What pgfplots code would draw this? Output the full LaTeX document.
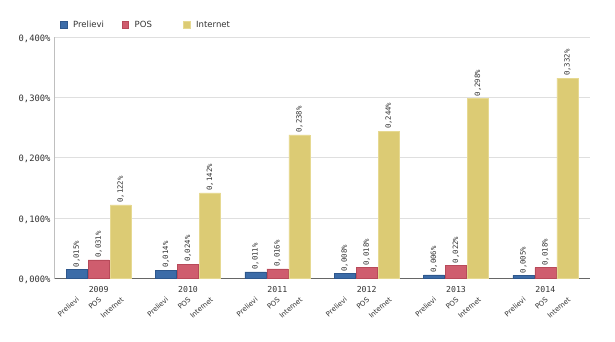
\documentclass[border=0pt]{standalone}
\usepackage{pgfplots}
\pgfplotsset{compat=1.18}
\usepackage{fontspec}
\setmainfont{DejaVu Sans}
\setmonofont{DejaVu Sans Mono}
\definecolor{cblue}{HTML}{3C6CA8}
\definecolor{cblueb}{HTML}{2E578C}
\definecolor{cred}{HTML}{CF5D6E}
\definecolor{credb}{HTML}{B84A5A}
\definecolor{cyel}{HTML}{DCCB74}
\definecolor{cyelb}{HTML}{E6D992}
\definecolor{txt}{HTML}{333333}
\newcommand\yl[1]{\rule{0pt}{10.5pt}{\ttfamily\fontsize{8.2}{9}\selectfont #1}}
\newcommand\subl[1]{{\rmfamily\fontsize{7}{8}\selectfont #1}}
\begin{document}
\begin{tikzpicture}
\useasboundingbox (-54pt,-62.5pt) rectangle (561pt,278.5pt);
\begin{axis}[
  at={(0pt,0pt)}, anchor=south west,
  scale only axis,
  width=536pt, height=241.5pt,
  xmin=-0.5, xmax=5.5, ymin=0, ymax=0.4,
  ybar=1pt, bar width=21pt,
  axis x line*=bottom, axis y line*=left,
  axis line style={draw=gray!50, -},
  x axis line style={draw=gray!80!black},
  ymajorgrids, grid style={draw=gray!25, line width=0.6pt},
  major tick length=0pt,
  /pgf/number format/assume math mode=true,
  ytick={0,0.1,0.2,0.3,0.4},
  yticklabel={\pgfmathprintnumber[fixed,fixed zerofill,precision=3,use comma]{\tick}\%},
  yticklabel style={font=\ttfamily\fontsize{8.8}{10}\selectfont, text=txt, yshift=-1.5pt},
  xtick={0,1,2,3,4,5},
  xticklabels={\yl{2009},\yl{2010},\yl{2011},\yl{2012},\yl{2013},\yl{2014}},
  xticklabel style={text=txt},
  extra x ticks={-0.25,0,0.25,0.75,1,1.25,1.75,2,2.25,2.75,3,3.25,3.75,4,4.25,4.75,5,5.25},
  extra x tick labels={\subl{Prelievi},\subl{POS},\subl{Internet},\subl{Prelievi},\subl{POS},\subl{Internet},\subl{Prelievi},\subl{POS},\subl{Internet},\subl{Prelievi},\subl{POS},\subl{Internet},\subl{Prelievi},\subl{POS},\subl{Internet},\subl{Prelievi},\subl{POS},\subl{Internet}},
  extra x tick style={grid=none, major tick length=0pt,
    tick label style={text=txt, anchor=east, inner sep=0.5pt, yshift=-19.5pt, xshift=2pt, rotate=42}},
  nodes near coords={\pgfmathprintnumber[fixed,fixed zerofill,precision=3,use comma]{\pgfplotspointmeta}\%},
  every node near coord/.append style={rotate=90, anchor=west, font=\ttfamily\fontsize{7.3}{8}\selectfont, text=txt, inner sep=2pt},
  legend style={at={(rel axis cs:0,1)}, anchor=south west, draw=none, fill=none,
    legend columns=-1, font=\fontsize{8.5}{10}\selectfont, text=txt, xshift=3pt, yshift=4pt,
    /tikz/every even column/.style={column sep=0pt}},
  legend image code/.code={\draw[#1, line width=0.6pt] (0pt,-3.2pt) rectangle (6.4pt,3.2pt);},
]
\addplot[fill=cblue, draw=cblueb] coordinates {(0,0.015) (1,0.014) (2,0.011) (3,0.008) (4,0.006) (5,0.005)};
\addplot[fill=cred, draw=credb] coordinates {(0,0.031) (1,0.024) (2,0.016) (3,0.018) (4,0.022) (5,0.018)};
\addplot[fill=cyel, draw=cyelb] coordinates {(0,0.122) (1,0.142) (2,0.238) (3,0.244) (4,0.298) (5,0.332)};
\legend{\hspace{4pt}\makebox[46.5pt][l]{Prelievi},\hspace{4pt}\makebox[46.5pt][l]{POS},\hspace{4pt}\makebox[46.5pt][l]{Internet}}
\end{axis}
\end{tikzpicture}
\end{document}
